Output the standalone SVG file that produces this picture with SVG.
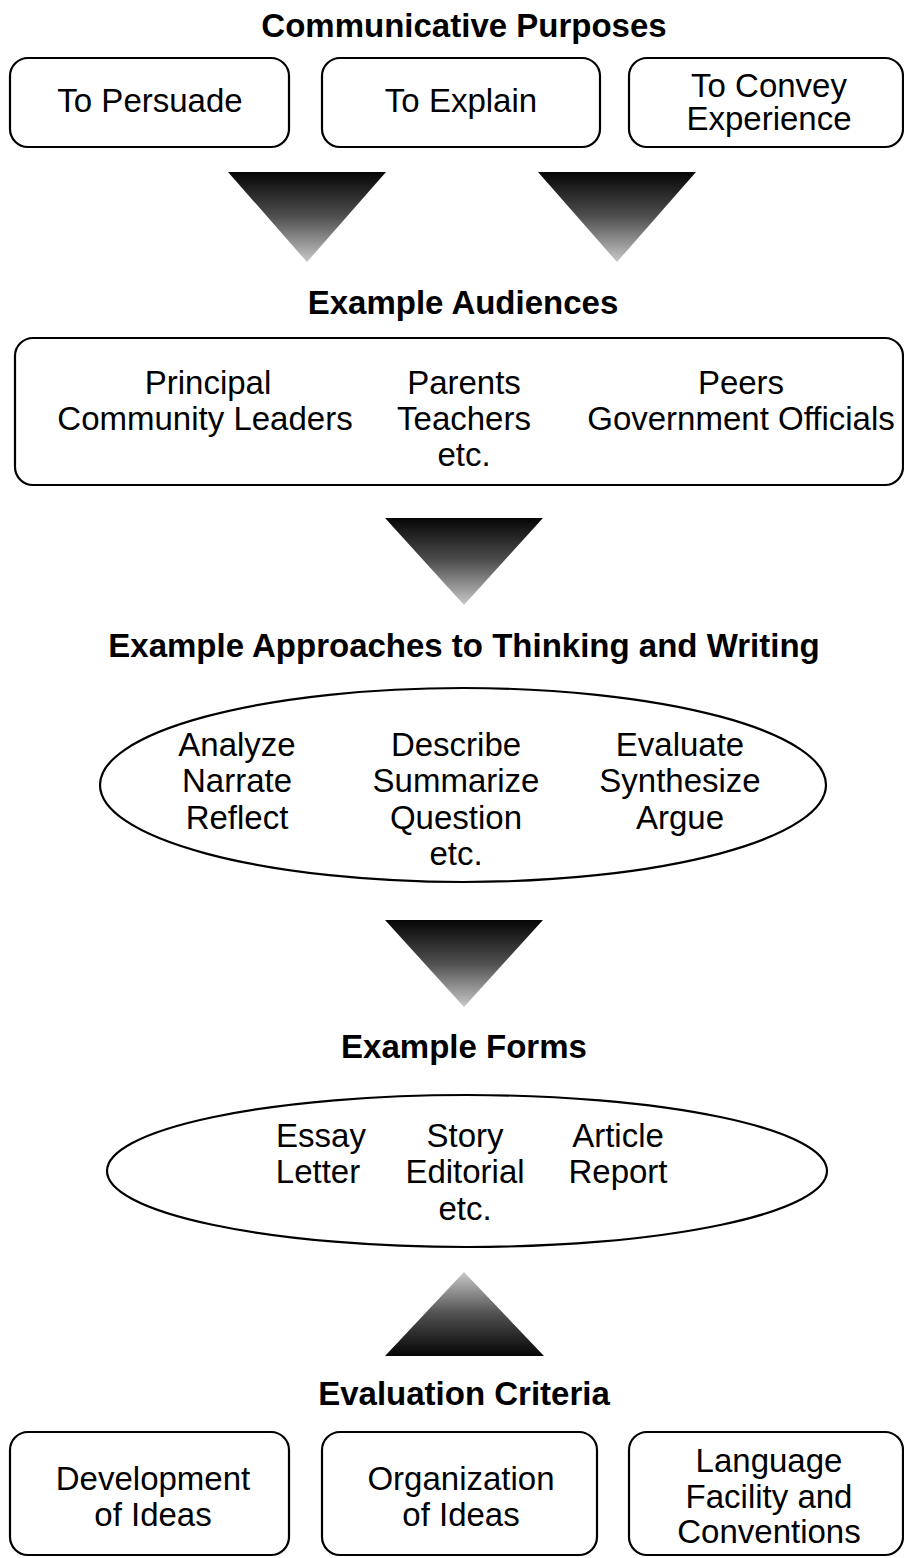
<svg xmlns="http://www.w3.org/2000/svg" width="904" height="1558" viewBox="0 0 904 1558">
<defs>
<linearGradient id="gDown" x1="0" y1="0" x2="0" y2="1">
<stop offset="0" stop-color="#050505"/>
<stop offset="0.5" stop-color="#505050"/>
<stop offset="1" stop-color="#c8c8c8"/>
</linearGradient>
<linearGradient id="gUp" x1="0" y1="1" x2="0" y2="0">
<stop offset="0" stop-color="#050505"/>
<stop offset="0.5" stop-color="#505050"/>
<stop offset="1" stop-color="#c8c8c8"/>
</linearGradient>
</defs>
<style>
.box{fill:#fff;stroke:#000;stroke-width:2.2}
.t{font-family:"Liberation Sans",Arial,Helvetica,sans-serif;font-size:33px;fill:#000;text-anchor:middle}
.h{font-family:"Liberation Sans",Arial,Helvetica,sans-serif;font-size:33px;font-weight:bold;fill:#000;text-anchor:middle}
</style>
<rect width="904" height="1558" fill="#fff"/>

<g id="title-purposes"><text class="h" x="464" y="37">Communicative Purposes</text></g>
<g id="node-persuade"><rect class="box" x="10" y="58" width="279" height="89" rx="18"/><text class="t" x="150" y="112">To Persuade</text></g>
<g id="node-explain"><rect class="box" x="322" y="58" width="278" height="89" rx="18"/><text class="t" x="461" y="112">To Explain</text></g>
<g id="node-convey"><rect class="box" x="629" y="58" width="274" height="89" rx="18"/><text class="t" x="769" y="97">To Convey</text><text class="t" x="769" y="130">Experience</text></g>

<g id="title-audiences"><text class="h" x="463" y="314">Example Audiences</text></g>
<g id="node-audiences"><rect class="box" x="15" y="338" width="888" height="147" rx="18"/>
<text class="t" x="208" y="394">Principal</text><text class="t" x="205" y="430">Community Leaders</text>
<text class="t" x="464" y="394">Parents</text><text class="t" x="464" y="430">Teachers</text><text class="t" x="464" y="466">etc.</text>
<text class="t" x="741" y="394">Peers</text><text class="t" x="741" y="430">Government Officials</text></g>

<g id="title-approaches"><text class="h" x="464" y="657">Example Approaches to Thinking and Writing</text></g>
<g id="node-approaches"><ellipse class="box" cx="463" cy="785" rx="363" ry="97"/>
<text class="t" x="237" y="756">Analyze</text><text class="t" x="237" y="792">Narrate</text><text class="t" x="237" y="829">Reflect</text>
<text class="t" x="456" y="756">Describe</text><text class="t" x="456" y="792">Summarize</text><text class="t" x="456" y="829">Question</text><text class="t" x="456" y="865">etc.</text>
<text class="t" x="680" y="756">Evaluate</text><text class="t" x="680" y="792">Synthesize</text><text class="t" x="680" y="829">Argue</text></g>

<g id="title-forms"><text class="h" x="464" y="1058">Example Forms</text></g>
<g id="node-forms"><ellipse class="box" cx="467" cy="1171" rx="360" ry="76"/>
<text class="t" x="321" y="1147">Essay</text><text class="t" x="318" y="1183">Letter</text>
<text class="t" x="465" y="1147">Story</text><text class="t" x="465" y="1183">Editorial</text><text class="t" x="465" y="1220">etc.</text>
<text class="t" x="618" y="1147">Article</text><text class="t" x="618" y="1183">Report</text></g>

<g id="title-criteria"><text class="h" x="464" y="1405">Evaluation Criteria</text></g>
<g id="node-development"><rect class="box" x="10" y="1432" width="279" height="123" rx="18"/><text class="t" x="153" y="1490">Development</text><text class="t" x="153" y="1526">of Ideas</text></g>
<g id="node-organization"><rect class="box" x="322" y="1432" width="275" height="123" rx="18"/><text class="t" x="461" y="1490">Organization</text><text class="t" x="461" y="1526">of Ideas</text></g>
<g id="node-language"><rect class="box" x="629" y="1432" width="274" height="123" rx="18"/><text class="t" x="769" y="1472">Language</text><text class="t" x="769" y="1508">Facility and</text><text class="t" x="769" y="1543">Conventions</text></g>

<g id="connectors">
<polygon points="228,172 386,172 307,262" fill="url(#gDown)"/>
<polygon points="538,172 696,172 617,262" fill="url(#gDown)"/>
<polygon points="385,518 543,518 464,605" fill="url(#gDown)"/>
<polygon points="385,920 543,920 464,1007" fill="url(#gDown)"/>
<polygon points="464,1272 544,1356 385,1356" fill="url(#gUp)"/>
</g>
</svg>
